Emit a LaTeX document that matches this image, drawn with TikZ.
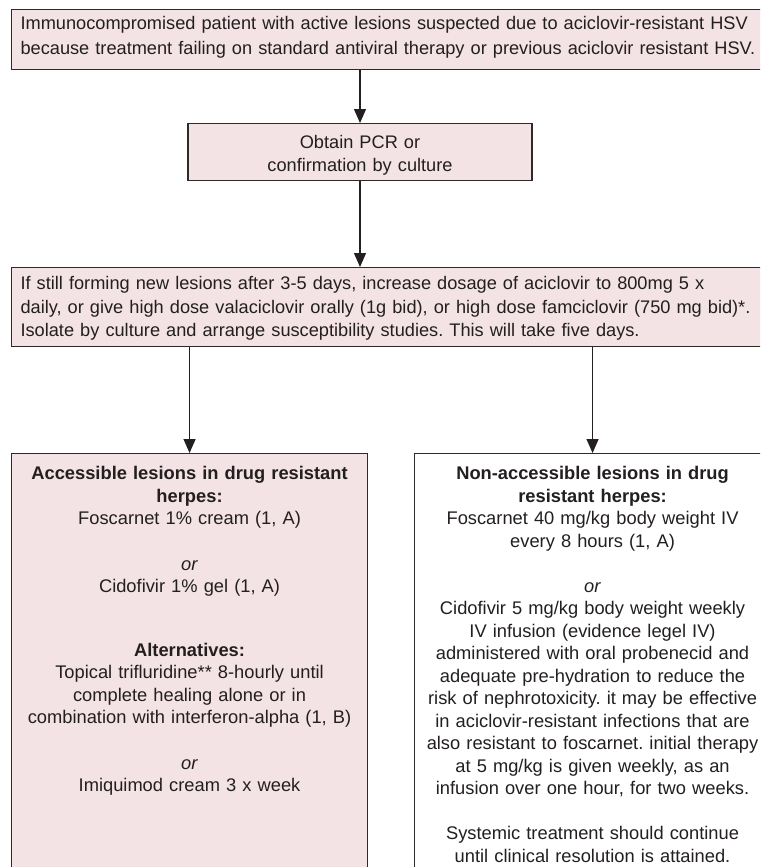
\documentclass[tikz,border=0pt]{standalone}
\usepackage{fontspec}
\setmainfont{Liberation Sans}
\setsansfont{Liberation Sans}
\usetikzlibrary{arrows.meta}

\definecolor{boxpink}{HTML}{F3E3E5}
\definecolor{boxline}{HTML}{2E2A27}
\definecolor{inkdark}{HTML}{231F20}

\begin{document}
\frenchspacing
\begin{tikzpicture}[
			x=1pt, y=-1pt,
			every node/.style={font=\sffamily\fontsize{18.2}{24}\selectfont, text=inkdark},
			narrow/.style={font=\sffamily\fontsize{18.3}{22.5}\selectfont},
			stepbox/.style={rectangle, draw=boxline, line width=1.1pt, fill=boxpink, inner sep=0pt, anchor=north west},
			widebox/.style={stepbox, text width=760pt, inner xsep=9pt, align=left},
			lesionbox/.style={stepbox, narrow, text width=350pt, inner xsep=3pt, align=center, text height=26pt, text depth=430pt},
			arr/.style={-{Triangle[length=14pt, width=12pt]}, draw=inkdark, line width=1.3pt}
			]
			\useasboundingbox (0,0) rectangle (760,867);
			\clip (0,0) rectangle (760,867);
			
			\node (susp) at (11,9) [widebox, text height=20pt, text depth=40pt, font=\sffamily\fontsize{18.2}{25}\selectfont]
				{Immunocompromised patient with active lesions suspected due to aciclovir-resistant HSV\\
				because treatment failing on standard antiviral therapy or previous aciclovir resistant HSV.};
			
			\node (pcr) at (360,123) [stepbox, anchor=north, minimum width=344pt, text width=330pt, align=center, text height=25pt, text depth=32pt, font=\sffamily\fontsize{18.2}{23}\selectfont]
				{Obtain PCR or\\confirmation by culture};
			
			\node (dose) at (11,267) [widebox, text height=22pt, text depth=57pt, font=\sffamily\fontsize{18.2}{23.5}\selectfont]
				{If still forming new lesions after 3-5 days, increase dosage of aciclovir to 800mg 5 x\\
				daily, or give high dose valaciclovir orally (1g bid), or high dose famciclovir (750 mg bid)*.\\
				Isolate by culture and arrange susceptibility studies. This will take five days.};
			
			\node (acc) at (11,453) [lesionbox]
				{\textbf{Accessible lesions in drug resistant}\\
				\textbf{herpes:}\\
				Foscarnet 1\% cream (1, A)\\[23pt]
				\textit{or}\\
				Cidofivir 1\% gel (1, A)\\[41pt]
				\textbf{Alternatives:}\\
				Topical trifluridine** 8-hourly until\\
				complete healing alone or in\\
				combination with interferon-alpha (1, B)\\[23pt]
				\textit{or}\\
				Imiquimod cream 3 x week};
			
			\node (nonacc) at (414,453) [lesionbox, fill=white]
				{\textbf{Non-accessible lesions in drug}\\
				\textbf{resistant herpes:}\\
				Foscarnet 40 mg/kg body weight IV\\
				every 8 hours (1, A)\\[22.5pt]
				\textit{or}\\
				Cidofivir 5 mg/kg body weight weekly\\
				IV infusion (evidence legel IV)\\
				administered with oral probenecid and\\
				adequate pre-hydration to reduce the\\
				risk of nephrotoxicity. it may be effective\\
				in aciclovir-resistant infections that are\\
				also resistant to foscarnet. initial therapy\\
				at 5 mg/kg is given weekly, as an\\
				infusion over one hour, for two weeks.\\[22.5pt]
				Systemic treatment should continue\\
				until clinical resolution is attained.};
			
			\draw [arr] (susp.south -| pcr.north) -- (pcr.north);
			\draw [arr] (pcr.south) -- (pcr.south |- dose.north);
			\draw [arr] (acc.north |- dose.south) -- (acc.north);
			\draw [arr] (nonacc.north |- dose.south) -- (nonacc.north);
			\end{tikzpicture}
\end{document}
